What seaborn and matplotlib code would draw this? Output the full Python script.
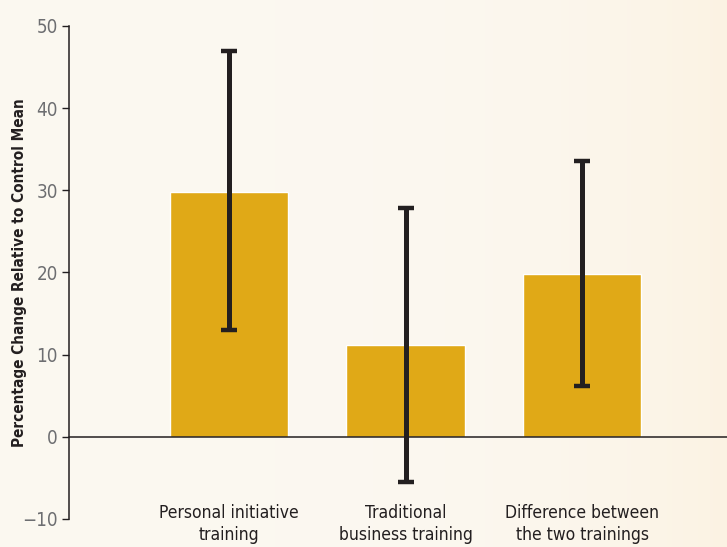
import matplotlib
matplotlib.use('Agg')
import matplotlib.pyplot as plt
import seaborn as sns
import numpy as np
import pandas as pd

categories = ['Personal initiative\ntraining', 'Traditional\nbusiness training', 'Difference between\nthe two trainings']
values = [29.8, 11.2, 19.8]
ci_low = [13.0, -5.5, 6.2]
ci_high = [47.0, 27.9, 33.6]
yticks = [-10, 0, 10, 20, 30, 40, 50]
ytick_labels = ['\u221210', '0', '10', '20', '30', '40', '50']

df = pd.DataFrame({'cat': categories, 'val': values})

sns.set_style('white')
plt.rcParams['font.family'] = ['DejaVu Sans']
plt.rcParams['font.stretch'] = 'condensed'

bg = '#fcf8f1'
fig = plt.figure(figsize=(7.27, 5.47), dpi=100, facecolor=bg)
ax = fig.add_axes([0.0949, 0.0512, 0.9051, 0.9013])
ax.set_facecolor('none')

# warm gradient toward the right edge
ramp = (np.linspace(0, 1, 727) ** 4)[None, :].repeat(547, 0)
gimg = np.dstack([np.full((547, 727), 0.988), 0.973 - 0.022 * ramp, 0.945 - 0.055 * ramp])
fig.figimage(gimg, xo=0, yo=0, zorder=-9)

sns.barplot(data=df, x='cat', y='val', color='#e0a917', saturation=1,
            width=0.67, errorbar=None, ax=ax, zorder=2)

x = np.arange(len(categories))
lo = np.array(values) - np.array(ci_low)
hi = np.array(ci_high) - np.array(values)
ax.errorbar(x, values, yerr=[lo, hi], fmt='none', ecolor='#231f20',
            elinewidth=3.6, capsize=6, capthick=3.2, zorder=3)

ax.axhline(0, color='#231f20', lw=1.1, zorder=4, clip_on=False)

ax.set_xlim(-0.906, 2.82)
ax.set_ylim(-10, 50)
ax.set_yticks(yticks)
ax.set_yticklabels(ytick_labels)

for s in ['top', 'right', 'bottom']:
    ax.spines[s].set_visible(False)
ax.spines['left'].set_color('#231f20')
ax.spines['left'].set_linewidth(1.1)

ax.tick_params(axis='y', length=5, width=1, color='#231f20', labelsize=13.5,
               labelcolor='#6d6e71', pad=3, left=True)
ax.tick_params(axis='x', length=0, labelsize=12.5, labelcolor='#231f20', pad=-11)
for t in ax.get_xticklabels():
    t.set_linespacing(1.3)

ax.set_xlabel('')
ax.set_ylabel('Percentage Change Relative to Control Mean', fontsize=11,
              fontweight='bold', color='#231f20')
ax.yaxis.set_label_coords(-0.064, 0.5)

fig.savefig('out.png', dpi=100, facecolor=bg)
